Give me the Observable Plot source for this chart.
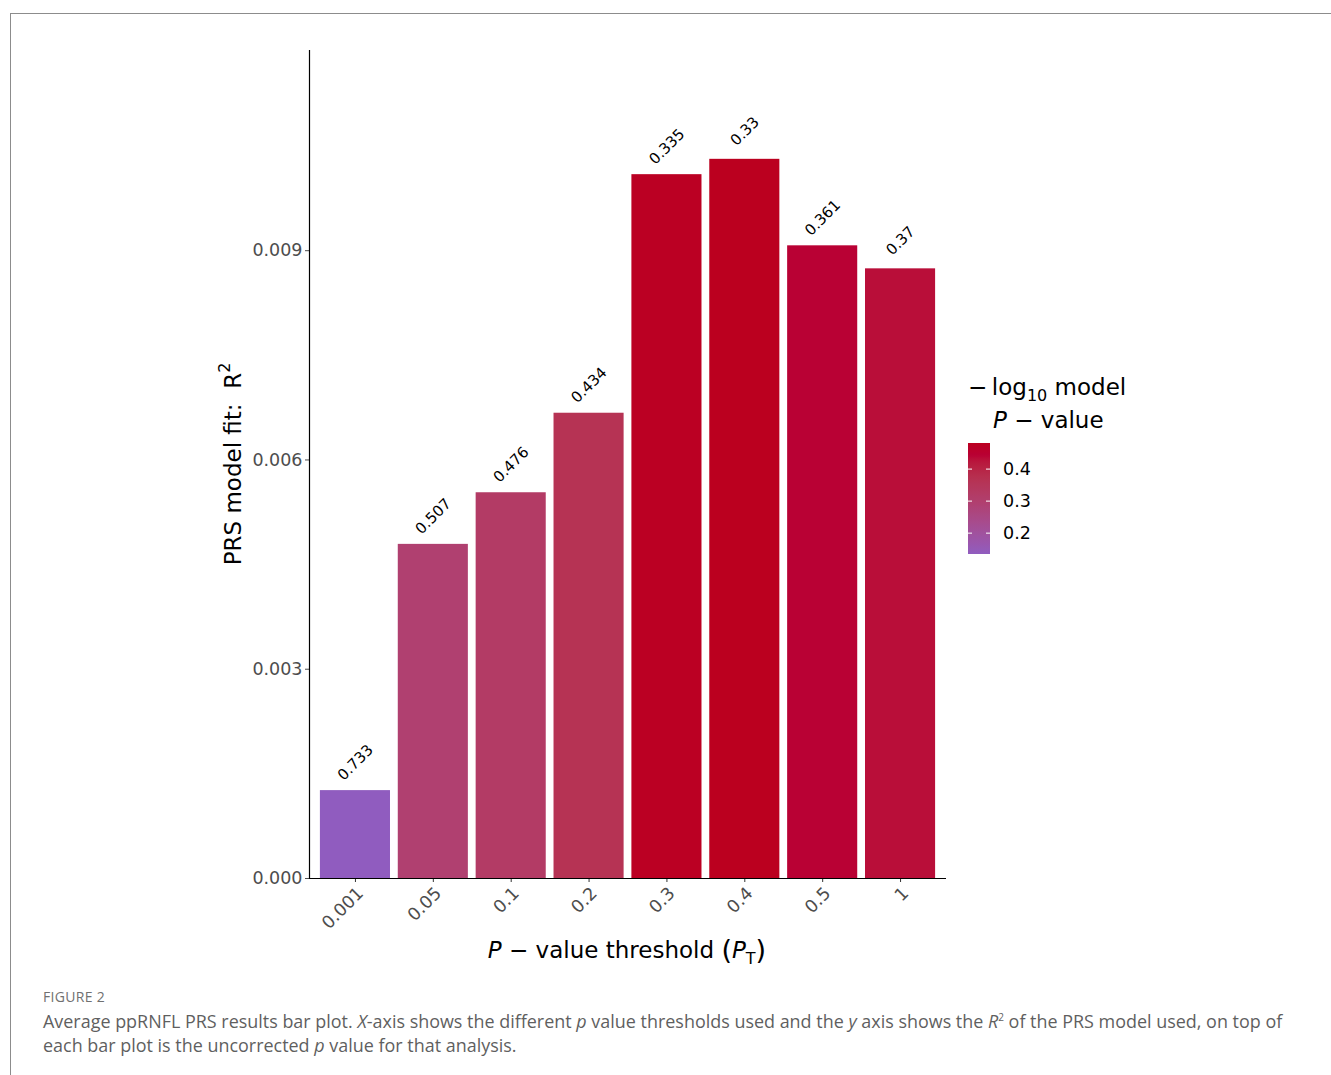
<!DOCTYPE html>
<html><head><meta charset="utf-8">
<script src="https://cdn.jsdelivr.net/npm/d3@7"></script>
<script src="https://cdn.jsdelivr.net/npm/@observablehq/plot@0.6"></script>
<style>
body{margin:0;background:#fff;width:1331px;height:1075px;position:relative;overflow:hidden;font-family:"DejaVu Sans",sans-serif}
#frame{position:absolute;left:10px;top:13px;right:0;bottom:0;border-top:1px solid #8c8c8c;border-left:1px solid #8c8c8c}
#chart{position:absolute;left:0;top:0}
#caption{position:absolute;left:43px;top:987px;font-family:"Open Sans",Lato,sans-serif;color:#5f5f5f;white-space:nowrap}
#caption .fig{font-size:14px;color:#707070;letter-spacing:0.3px;margin-bottom:-1px}
#caption .txt{font-size:17.95px;line-height:24px}
</style>
</head><body>
<div id="frame"></div>
<div id="chart"></div>
<div id="caption">
<div class="fig">FIGURE 2</div>
<div class="txt">Average ppRNFL PRS results bar plot. <i>X</i>-axis shows the different <i>p</i> value thresholds used and the <i>y</i> axis shows the <i>R</i><sup style="font-size:10px">2</sup> of the PRS model used, on top of<br>each bar plot is the uncorrected <i>p</i> value for that analysis.</div>
</div>
<script>
const thresholds = ["0.001","0.05","0.1","0.2","0.3","0.4","0.5","1"];
const r2 = [0.00126, 0.00479, 0.00553, 0.00667, 0.01009, 0.01031, 0.00907, 0.00874];
const pLabels = ["0.733","0.507","0.476","0.434","0.335","0.33","0.361","0.37"];
const yTicks = [0, 0.003, 0.006, 0.009];
const legendTicks = [0.2, 0.3, 0.4];
const gradientStops = [0, 0.46, 0.66, 0.89, 1];
const gradientColors = ["#905cbf", "#b04070", "#b63354", "#b90034", "#bb001f"];

const data = thresholds.map((t, i) => ({t, r2: r2[i], p: pLabels[i], nlp: -Math.log10(+pLabels[i])}));
const cmin = d3.min(data, d => d.nlp), cmax = d3.max(data, d => d.nlp);
const cDomain = gradientStops.map(f => cmin + f * (cmax - cmin));

const W = 1331, H = 975;
const plot = Plot.plot({
  width: W, height: H,
  marginLeft: 309, marginRight: 385, marginTop: 50, marginBottom: 97,
  style: {fontFamily: "DejaVu Sans", background: "transparent"},
  x: {type: "band", domain: thresholds, paddingInner: 0.1, paddingOuter: 0.14, round: false},
  y: {domain: [0, 0.01187]},
  color: {type: "linear", domain: cDomain, range: gradientColors, interpolate: "lab"},
  marks: [
    Plot.barY(data, {x: "t", y: "r2", fill: "nlp"}),
    Plot.text(data, {x: "t", y: "r2", text: "p", rotate: -45, dy: -28, fontSize: 15, fill: "black", lineAnchor: "middle"}),
    Plot.axisY({ticks: yTicks, tickFormat: d3.format(".3f"), tickSize: 4, tickPadding: 3, fontSize: 17.5, color: "#4d4d4d", label: null}),
    Plot.axisX({tickSize: 4, tickFormat: () => "", color: "#333", label: null}),
    Plot.axisX({tickRotate: -45, tickSize: 0, tickPadding: 10, dx: 5, dy: 2, fontSize: 17.5, color: "#4d4d4d", label: null}),
    Plot.ruleY([0], {stroke: "black", strokeWidth: 1.2}),
    Plot.frame({anchor: "left", stroke: "black", strokeWidth: 1.2})
  ]
});
document.getElementById("chart").appendChild(plot);

const svg = d3.select(plot);
// y axis label
const yl = svg.append("text").attr("transform", "translate(241,464) rotate(-90)")
  .attr("text-anchor", "middle").attr("font-size", 23).attr("fill", "black");
yl.append("tspan").text("PRS model fit:  R");
yl.append("tspan").attr("font-size", 16).attr("dy", -11).text("2");
// x axis label
const xl = svg.append("text").attr("x", 627).attr("y", 958)
  .attr("text-anchor", "middle").attr("font-size", 23).attr("fill", "black");
xl.append("tspan").attr("font-style", "italic").text("P");
xl.append("tspan").text(" \u2212 value threshold ");
xl.append("tspan").attr("font-size", 27).attr("dy", 1).text("(");
xl.append("tspan").attr("font-style", "italic").attr("dy", -1).text("P");
xl.append("tspan").attr("font-size", 16).attr("dy", 6).text("T");
xl.append("tspan").attr("font-size", 27).attr("dy", -5).text(")");

// legend
const cs = plot.scale("color");
const color = d3.scaleLinear().domain(cs.domain).range(cs.range).interpolate(d3.interpolateLab);
const lt = svg.append("text").attr("x", 968).attr("y", 395).attr("font-size", 23).attr("fill", "black").attr("text-anchor", "start");
lt.append("tspan").text("\u2212\u2009log");
lt.append("tspan").attr("font-size", 16).attr("dy", 6).text("10");
lt.append("tspan").attr("dy", -6).text(" model");
const lt2 = svg.append("text").attr("x", 993).attr("y", 428).attr("font-size", 23).attr("fill", "black").attr("text-anchor", "start");
lt2.append("tspan").attr("font-style", "italic").text("P");
lt2.append("tspan").text(" \u2212 value");

const barTop = 443, barBot = 554, bx = 968, bw = 22;
const ly = d3.scaleLinear().domain([cmax, cmin]).range([barTop, barBot]);
const grad = svg.append("defs").append("linearGradient").attr("id", "cg")
  .attr("x1", 0).attr("y1", 1).attr("x2", 0).attr("y2", 0);
d3.range(0, 1.0001, 0.02).forEach(f => {
  grad.append("stop").attr("offset", f).attr("stop-color", color(cmin + f * (cmax - cmin)));
});
svg.append("rect").attr("x", bx).attr("y", barTop).attr("width", bw).attr("height", barBot - barTop).attr("fill", "url(#cg)");
legendTicks.forEach(v => {
  const y = ly(v);
  svg.append("line").attr("x1", bx).attr("x2", bx + 4).attr("y1", y).attr("y2", y).attr("stroke", "white").attr("stroke-width", 1);
  svg.append("line").attr("x1", bx + bw - 4).attr("x2", bx + bw).attr("y1", y).attr("y2", y).attr("stroke", "white").attr("stroke-width", 1);
  svg.append("text").attr("x", 1003).attr("y", y + 6).attr("font-size", 17.5).attr("fill", "black").attr("text-anchor", "start").text(v.toFixed(1));
});
</script>
</body></html>
